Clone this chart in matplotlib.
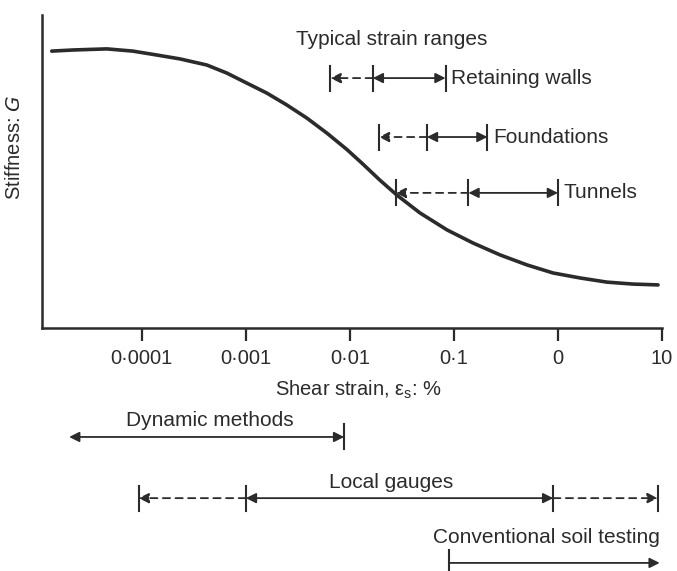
import matplotlib
matplotlib.use("Agg")
import matplotlib.pyplot as plt

plt.rcParams['font.family'] = ['Liberation Sans', 'DejaVu Sans']
INK = '#2b2b2b'

# stiffness curve (strain in %, G relative to G0)
strain = [1.36e-5, 2.17e-5, 4.61e-5, 8.19e-5, 1.39e-4, 2.32e-4, 4.21e-4, 6.56e-4,
          1.02e-3, 1.59e-3, 2.48e-3, 3.86e-3, 6.01e-3, 9.36e-3, 0.0133, 0.0194,
          0.0283, 0.0471, 0.0857, 0.152, 0.277, 0.503, 0.895, 1.63, 2.96, 5.26, 9.16]
stiffness = [0.996, 1.0, 1.004, 0.996, 0.982, 0.968, 0.946, 0.917,
             0.881, 0.845, 0.802, 0.755, 0.701, 0.642, 0.590, 0.532,
             0.478, 0.414, 0.353, 0.306, 0.263, 0.227, 0.198, 0.180, 0.165, 0.158, 0.155]

tick_values = [1e-4, 1e-3, 1e-2, 1e-1, 1, 10]
tick_labels = ['0·0001', '0·001', '0·01', '0·1', '0', '10']

# typical strain ranges: (label, dashed start, solid start, solid end)
ranges = [
    ('Retaining walls', 0.0065, 0.0166, 0.083),
    ('Foundations', 0.019, 0.055, 0.21),
    ('Tunnels', 0.0275, 0.138, 1.0),
]
range_rows = [0.899, 0.687, 0.486]

# measurement methods
dynamic = (2.0e-5, 0.0088)
local_gauges = (9.3e-5, 1e-3, 0.9, 9.1)
conventional = (0.09, 9.5)

fig = plt.figure(figsize=(6.77, 5.71), dpi=100)
ax = fig.add_axes([42 / 677, 243 / 571, 620 / 677, 313 / 571])

ax.plot(strain, stiffness, color=INK, lw=2.6, solid_capstyle='round',
        solid_joinstyle='round')
ax.set_xscale('log')
ax.set_xlim(10 ** -4.96, 10 ** 1.0)
ax.set_ylim(0, 313 / 278)

for s in ['top', 'right']:
    ax.spines[s].set_visible(False)
for s in ['left', 'bottom']:
    ax.spines[s].set_linewidth(1.8)
    ax.spines[s].set_color(INK)

ax.set_xticks(tick_values)
ax.set_xticklabels(tick_labels, fontsize=14.5, color=INK)
ax.xaxis.set_minor_locator(matplotlib.ticker.NullLocator())
ax.tick_params(axis='x', direction='out', length=9, width=1.6, color=INK, pad=6)
ax.set_yticks([])

ax.text(-0.044, 0.578, 'Stiffness: $G$', rotation=90, transform=ax.transAxes,
        ha='center', va='center', fontsize=14.5, color=INK)
ax.text(0.51, -0.198, r'Shear strain, ε$_\mathregular{s}$: %', transform=ax.transAxes,
        ha='center', va='center', fontsize=14.5, color=INK)


def bar(x, y, h=0.045):
    ax.plot([x, x], [y - h, y + h], color=INK, lw=1.5, clip_on=False)


def arrow(x_from, x_to, y, style='-|>', dashed=False):
    ax.annotate('', xy=(x_to, y), xytext=(x_from, y), annotation_clip=False,
                arrowprops=dict(arrowstyle=style, color=INK, lw=1.3,
                                linestyle=(0, (4, 3)) if dashed else '-',
                                mutation_scale=15, shrinkA=0, shrinkB=0))


ax.text(10 ** -1.6, 1.036, 'Typical strain ranges', ha='center', va='center',
        fontsize=15, color=INK)

for (label, x0, x1, x2), y in zip(ranges, range_rows):
    for x in (x0, x1, x2):
        bar(x, y)
    arrow(x1, x0, y, dashed=True)
    arrow(x1, x2, y, style='<|-|>')
    ax.text(x2 * 1.13, y, label, ha='left', va='center', fontsize=15, color=INK)

# Dynamic methods
y = -0.392
bar(dynamic[1], y)
arrow(dynamic[0], dynamic[1], y, style='<|-|>')
ax.text(10 ** -3.35, -0.331, 'Dynamic methods', ha='center', va='center',
        fontsize=15, color=INK)

# Local gauges
y = -0.612
for x in local_gauges:
    bar(x, y)
arrow(local_gauges[1], local_gauges[0], y, dashed=True)
arrow(local_gauges[1], local_gauges[2], y, style='<|-|>')
arrow(local_gauges[2], local_gauges[3], y, dashed=True)
ax.text(10 ** -1.6, -0.554, 'Local gauges', ha='center', va='center',
        fontsize=15, color=INK)

# Conventional soil testing
y = -0.845
bar(conventional[0], y)
arrow(conventional[0], conventional[1], y)
ax.text(10 ** -0.11, -0.752, 'Conventional soil testing', ha='center', va='center',
        fontsize=15, color=INK)

fig.savefig('out.png', dpi=100)
